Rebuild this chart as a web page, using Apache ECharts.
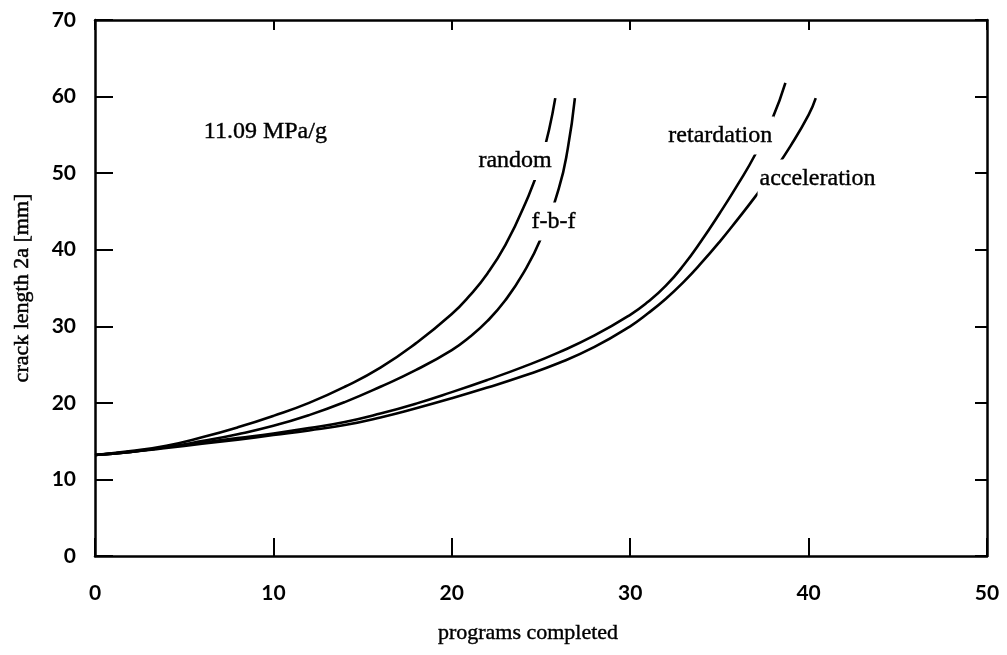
<!DOCTYPE html>
<html>
<head>
<meta charset="utf-8">
<title>Crack growth under spectrum loading</title>
<script src="https://cdn.jsdelivr.net/npm/echarts@6/dist/echarts.min.js"></script>
<style>
  html, body { margin: 0; padding: 0; background: #fff; }
  #chart { width: 1007px; height: 655px; }
</style>
</head>
<body>
<div id="chart"></div>
<script>
// crack length 2a [mm] against programs completed, one curve per load sequence
const randomCurve = [
  [0, 13.2], [2, 13.7], [4, 14.4], [6, 15.5], [8, 16.8], [10, 18.3], [12, 20.0],
  [14, 22.1], [16, 24.6], [18, 27.8], [20, 31.6], [21, 34.0], [22, 36.9],
  [23, 40.6], [24, 45.4], [25, 51.6], [25.8, 59.8]
];
const fbfCurve = [
  [0, 13.2], [2, 13.6], [4, 14.2], [6, 15.0], [8, 15.9], [10, 17.0], [12, 18.4],
  [14, 20.1], [16, 22.1], [18, 24.3], [20, 26.9], [21, 28.6], [22, 30.7],
  [23, 33.4], [24, 36.9], [25, 41.5], [26, 48.0], [26.5, 53.2], [26.9, 59.8]
];
const retardationCurve = [
  [0, 13.2], [2, 13.6], [4, 14.2], [6, 14.8], [8, 15.4], [10, 16.0], [12, 16.7],
  [14, 17.5], [16, 18.6], [18, 19.9], [20, 21.4], [22, 23.0], [24, 24.7],
  [26, 26.6], [28, 28.8], [30, 31.5], [31, 33.2], [32, 35.3], [33, 38.0],
  [34, 41.2], [35, 44.7], [36, 48.4], [37, 52.4], [38, 57.3], [38.7, 61.8]
];
const accelerationCurve = [
  [0, 13.2], [2, 13.6], [4, 14.1], [6, 14.65], [8, 15.2], [10, 15.8], [12, 16.4],
  [14, 17.1], [16, 18.1], [18, 19.3], [20, 20.6], [22, 22.0], [24, 23.5],
  [26, 25.2], [28, 27.3], [30, 30.0], [31, 31.7], [32, 33.6], [33, 35.8],
  [34, 38.3], [35, 41.0], [36, 43.9], [37, 46.9], [38, 50.1], [39, 53.6],
  [40, 57.6], [40.4, 59.8]
];
const curveNames = ['random', 'f-b-f', 'retardation', 'acceleration'];
const loadLabel = '11.09 MPa/g';
const xName = 'programs completed';
const yName = 'crack length 2a [mm]';

const SERIF = '"Liberation Serif", "Times New Roman", serif';
const SANS = 'Lato, "Liberation Sans", sans-serif';
const INK = '#000';

const chart = echarts.init(document.getElementById('chart'), null, { renderer: 'canvas' });

function curve(data) {
  return {
    type: 'line', data: data, xAxisIndex: 0, yAxisIndex: 0,
    smooth: 0.5, showSymbol: false, symbol: 'none', z: 2,
    lineStyle: { color: INK, width: 2.6 }, silent: true
  };
}

const frameAxis = {
  min: 0, interval: 10, type: 'value',
  axisLine: { show: true, onZero: false, lineStyle: { color: INK, width: 2.5 } },
  splitLine: { show: false }
};

chart.setOption({
  animation: false,
  backgroundColor: '#fff',
  grid: { left: 95, right: 20, top: 20, bottom: 99, containLabel: false },
  xAxis: [
    Object.assign({}, frameAxis, {
      max: 50, position: 'bottom',
      axisTick: { show: true, inside: true, length: 18, lineStyle: { color: INK, width: 2 } },
      axisLabel: { show: true, margin: 27, color: INK, fontFamily: SANS, fontWeight: 'bold', fontSize: 21 },
      name: xName, nameLocation: 'middle', nameGap: 66,
      nameTextStyle: {
        color: INK, fontFamily: SERIF, fontSize: 22, padding: [0, 26, 0, 0],
        textBorderColor: INK, textBorderWidth: 0.4
      }
    }),
    Object.assign({}, frameAxis, {
      max: 50, position: 'top',
      axisTick: { show: true, inside: true, length: 10, lineStyle: { color: INK, width: 2 } },
      axisLabel: { show: false }
    })
  ],
  yAxis: [
    Object.assign({}, frameAxis, {
      max: 70, position: 'left',
      axisTick: { show: true, inside: true, length: 18, lineStyle: { color: INK, width: 2 } },
      axisLabel: { show: true, margin: 19, color: INK, fontFamily: SANS, fontWeight: 'bold', fontSize: 21 },
      name: yName, nameLocation: 'middle', nameGap: 62,
      nameTextStyle: {
        color: INK, fontFamily: SERIF, fontSize: 22,
        textBorderColor: INK, textBorderWidth: 0.5
      }
    }),
    Object.assign({}, frameAxis, {
      max: 70, position: 'right',
      axisTick: { show: true, inside: true, length: 12, lineStyle: { color: INK, width: 2 } },
      axisLabel: { show: false }
    })
  ],
  series: [
    curve(randomCurve),
    curve(fbfCurve),
    curve(retardationCurve),
    curve(accelerationCurve)
  ]
});

// curve names are lettered onto the curves; a white box interrupts the line under each name
function textAt(text, at, boxed) {
  const p = chart.convertToPixel({ gridIndex: 0 }, at);
  const style = {
    text: text, fill: INK, stroke: INK, lineWidth: 0.4,
    font: '24px ' + SERIF, align: 'center', verticalAlign: 'middle'
  };
  if (boxed) {
    style.backgroundColor = '#fff';
    style.padding = [7, 2, 7, 2];
  }
  return { type: 'text', x: p[0], y: p[1], z: 100, silent: true, style: style };
}

chart.setOption({
  graphic: [
    textAt(curveNames[0], [23.55, 51.6], true),
    textAt(curveNames[1], [25.7, 43.7], true),
    textAt(curveNames[2], [35.05, 54.9], true),
    textAt(curveNames[3], [40.5, 49.3], true),
    textAt(loadLabel, [9.55, 55.4], false)
  ]
});
</script>
</body>
</html>
